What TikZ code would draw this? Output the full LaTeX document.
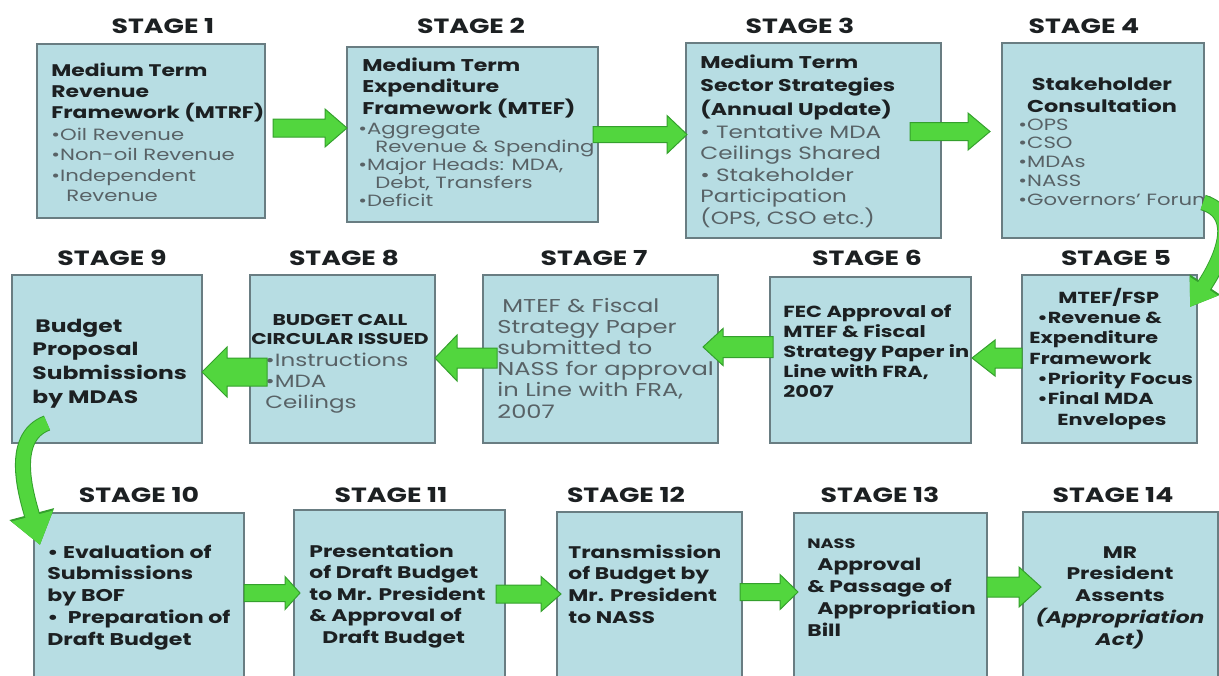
\documentclass[tikz,border=0pt]{standalone}
\usepackage{fontspec}
\setmainfont{Poppins}[FakeStretch=1.3]
\usetikzlibrary{calc,arrows.meta}
\definecolor{boxfill}{RGB}{183,221,227}
\definecolor{boxline}{RGB}{105,125,130}
\definecolor{agreen}{RGB}{82,214,62}
\definecolor{agreendk}{RGB}{52,160,45}
\definecolor{txtdk}{RGB}{28,32,34}
\definecolor{txtgr}{RGB}{88,98,102}
\newcommand{\fz}[2]{\fontsize{#1}{#2}\selectfont}
% horizontal block arrow: start coord, end coord, shaft half width, head half width, head length (px)
\newcommand{\hblock}[5]{%
  \draw[barrow] let \p1=(#1), \p2=(#2), \n1={ifthenelse(\x2>\x1,1,-1)} in
    (\x1,{\y1+#3*0.5pt}) -- ({\x2-(\n1)*#5*0.5pt},{\y1+#3*0.5pt})
    -- ({\x2-(\n1)*#5*0.5pt},{\y1+#4*0.5pt}) -- (\x2,\y1)
    -- ({\x2-(\n1)*#5*0.5pt},{\y1-#4*0.5pt}) -- ({\x2-(\n1)*#5*0.5pt},{\y1-#3*0.5pt})
    -- (\x1,{\y1-#3*0.5pt}) -- cycle;}
\begin{document}
\begin{tikzpicture}[x=0.5pt,y=-0.5pt,
  box/.style={draw=boxline,fill=boxfill,line width=1pt,inner sep=0pt,outer sep=0pt,anchor=north west},
  stg/.style={font=\fz{10.3}{13}\bfseries,text=txtdk,anchor=base,inner sep=0pt},
  tb/.style={text=txtdk,align=left,anchor=base west,inner sep=0pt},
  tg/.style={text=txtgr,align=left,anchor=base west,inner sep=0pt},
  barrow/.style={fill=agreen,draw=agreendk,line width=0.5pt,line join=miter},
  carrow/.style={draw=agreen,line width=7pt},
  carrowdk/.style={draw=agreendk,line width=8pt}]
\fill[white] (0,0) rectangle (1219,675);
\useasboundingbox (0,0) rectangle (1219,675);

% ---------- boxes ----------
\node[box,minimum width=114pt,minimum height=87pt] (s1) at (37,44) {};
\node[box,minimum width=125.5pt,minimum height=87.5pt] (s2) at (347,47) {};
\node[box,minimum width=127.5pt,minimum height=97.5pt] (s3) at (686,43) {};
\node[box,minimum width=101pt,minimum height=97.5pt] (s4) at (1002,43) {};
\node[box,minimum width=87.5pt,minimum height=84pt] (s5) at (1022,275) {};
\node[box,minimum width=100.5pt,minimum height=83pt] (s6) at (770,277) {};
\node[box,minimum width=117.5pt,minimum height=84pt] (s7) at (483,275) {};
\node[box,minimum width=92.5pt,minimum height=84pt] (s8) at (250,275) {};
\node[box,minimum width=95pt,minimum height=84pt] (s9) at (12,275) {};
\node[box,minimum width=105pt,minimum height=88.5pt] (s10) at (34,513) {};
\node[box,minimum width=105.5pt,minimum height=90pt] (s11) at (294,510) {};
\node[box,minimum width=92.5pt,minimum height=89pt] (s12) at (557,512) {};
\node[box,minimum width=96.5pt,minimum height=88.5pt] (s13) at (794,513) {};
\node[box,minimum width=97.5pt,minimum height=89pt] (s14) at (1023,512) {};

% ---------- stage labels ----------
\node[stg] (l1) at (163,33) {STAGE 1};
\node[stg] (l2) at (471,33) {STAGE 2};
\node[stg] (l3) at (800,33) {STAGE 3};
\node[stg] (l4) at (1084,33) {STAGE 4};
\node[stg] (l9) at (112,265) {STAGE 9};
\node[stg] (l8) at (344,265) {STAGE 8};
\node[stg] (l7) at (594,265) {STAGE 7};
\node[stg] (l6) at (867,265) {STAGE 6};
\node[stg] (l5) at (1116,265) {STAGE 5};
\node[stg] (l10) at (139,502) {STAGE 10};
\node[stg] (l11) at (391,502) {STAGE 11};
\node[stg] (l12) at (626,502) {STAGE 12};
\node[stg] (l13) at (880,502) {STAGE 13};
\node[stg] (l14) at (1113,502) {STAGE 14};

% ---------- texts (anchor = baseline of the last line) ----------
\node[tb,font=\fz{8.4}{10.5}\bfseries] (t1a) at (51,118) {Medium Term\\Revenue\\Framework (MTRF)};
\node[tg,font=\fz{8.15}{10.25}] (t1b) at (51,201.5) {•Oil Revenue\\•Non-oil Revenue\\•Independent\\\hspace*{7.5pt}Revenue};

\node[tb,font=\fz{8.5}{10.75}\bfseries] (t2a) at (362,114) {Medium Term\\Expenditure\\Framework (MTEF)};
\node[tg,font=\fz{8.15}{9}] (t2b) at (358,206) {•Aggregate\\\hspace*{8.5pt}Revenue \& Spending\\•Major Heads: MDA,\\\hspace*{8.5pt}Debt, Transfers\\•Deficit};

\node[tb,font=\fz{8.5}{11.75}\bfseries] (t3a) at (700,115) {Medium Term\\Sector Strategies\\(Annual Update)};
\node[tg,font=\fz{8.9}{10.75}] (t3b) at (700,224) {• Tentative MDA\\Ceilings Shared\\• Stakeholder\\Participation\\(OPS, CSO etc.)};

\node[tb,align=center,anchor=base,font=\fz{8.6}{11}\bfseries] (t4a) at (1102,112) {Stakeholder\\Consultation};
\node[tg,font=\fz{8.15}{9.35}] (t4b) at (1018,205) {•OPS\\•CSO\\•MDAs\\•NASS\\•Governors’ Forum};

\node[tb,font=\fz{8}{10.15}\bfseries] (t5) at (1029,425) {\hspace*{14.5pt}MTEF/FSP\\\hspace*{4pt}•Revenue \&\\Expenditure\\Framework\\\hspace*{4pt}•Priority Focus\\\hspace*{4pt}•Final MDA\\\hspace*{14pt}Envelopes};

\node[tb,font=\fz{8.05}{10}\bfseries] (t6) at (783,397) {FEC Approval of\\MTEF \& Fiscal\\Strategy Paper in\\Line with FRA,\\2007};

\node[tg,font=\fz{9.3}{10.6}] (t7) at (497,418) {\hspace*{2.5pt}MTEF \& Fiscal\\Strategy Paper\\submitted to\\NASS for approval\\in Line with FRA,\\2007};

\node[tb,align=center,anchor=base,font=\fz{7.8}{9.5}\bfseries] (t8a) at (340,344) {BUDGET CALL\\CIRCULAR ISSUED};
\node[tg,font=\fz{8.85}{10.5}] (t8b) at (265,408) {•Instructions\\•MDA\\Ceilings};

\node[tb,font=\fz{9}{11.8}\bfseries] (t9) at (32,403) {\hspace*{1.5pt}Budget\\Proposal\\Submissions\\by MDAS};

\node[tb,font=\fz{8.5}{10.85}\bfseries] (t10) at (47,645) {• Evaluation of\\Submissions\\by BOF\\•\ \ Preparation of\\Draft Budget};
\node[tb,font=\fz{8.4}{10.75}\bfseries] (t11) at (309,643) {Presentation\\of Draft Budget\\to Mr. President\\\& Approval of\\\hspace*{6.5pt}Draft Budget};
\node[tb,font=\fz{8.4}{10.8}\bfseries] (t12) at (568,623) {Transmission\\of Budget by\\Mr. President\\to NASS};
\node[tb,font=\fz{6.8}{8}\bfseries] (t13a) at (807,548) {NASS};
\node[tb,font=\fz{8.4}{11}\bfseries] (t13b) at (807,636) {\hspace*{5pt}Approval\\\& Passage of\\\hspace*{5pt}Appropriation\\Bill};
\node[tb,align=center,anchor=base,font=\fz{8.4}{10.85}\bfseries] (t14) at (1120,645) {MR\\President\\Assents\\\textit{(Appropriation}\\\textit{Act)}};

% ---------- straight block arrows ----------
\coordinate (a1s) at ($(s1.east)+(8,-3)$);   \coordinate (a1e) at (s2.west);
\coordinate (a2s) at ($(s2.east)+(-5,0)$);   \coordinate (a2e) at ($(s3.west)+(1,0)$);
\coordinate (a3s) at ($(s3.east)+(-31,-9)$); \coordinate (a3e) at ($(s4.west)+(-12,0)$);
\coordinate (a4s) at ($(s5.west)+(0,-1)$);   \coordinate (a4e) at ($(s6.east)+(1,0)$);
\coordinate (a5s) at ($(s6.west)+(3,-13)$);  \coordinate (a5e) at ($(s7.east)+(-15,0)$);
\coordinate (a6s) at ($(s7.west)+(14,-1)$);  \coordinate (a6e) at (s8.east);
\coordinate (a7s) at ($(s8.west)+(17,13)$);  \coordinate (a7e) at (s9.east);
\coordinate (a8s) at ($(s10.north east)+(0,80)$);  \coordinate (a8e) at ($(s11.north west)+(6,0)$);
\coordinate (a9s) at ($(s11.north east)+(-9,84)$); \coordinate (a9e) at ($(s12.north west)+(4,0)$);
\coordinate (a10s) at ($(s12.north east)+(-2,80)$); \coordinate (a10e) at ($(s13.north west)+(4,0)$);
\coordinate (a11s) at ($(s13.north east)+(0,74)$);  \coordinate (a11e) at ($(s14.north west)+(18,0)$);
\hblock{a1s}{a1e}{9}{19}{22}
\hblock{a2s}{a2e}{8}{19}{20}
\hblock{a3s}{a3e}{9}{18.5}{22}
\hblock{a4s}{a4e}{10}{18}{23}
\hblock{a5s}{a5e}{10.5}{18.5}{20}
\hblock{a6s}{a6e}{10}{23}{22}
\hblock{a7s}{a7e}{14}{25}{25}
\hblock{a8s}{a8e}{8.5}{16.5}{15}
\hblock{a9s}{a9e}{9}{17.5}{20}
\hblock{a10s}{a10e}{8.5}{17.5}{18}
\hblock{a11s}{a11e}{10}{20}{22}

% ---------- curved arrows ----------
\coordinate (c1s) at ($(s4.east)+(-1,62)$);
\coordinate (c1e) at ($(s5.north east)+(-7,32)$);
\draw[carrowdk,-{Triangle[length=13.5pt,width=17.5pt]}] (c1s) .. controls +(40,12) and +(30,-45) .. (c1e);
\draw[carrow,-{Triangle[length=12.5pt,width=16pt]}] (c1s) .. controls +(40,12) and +(30,-45) .. (c1e);
\coordinate (c2s) at ($(s9.south west)+(35,-20)$);
\coordinate (c2e) at ($(s10.north west)+(6,32)$);
\draw[carrowdk,-{Triangle[length=16pt,width=22pt]}] (c2s) .. controls +(-40,15) and +(-12,-45) .. (c2e);
\draw[carrow,-{Triangle[length=15pt,width=20.5pt]}] (c2s) .. controls +(-40,15) and +(-12,-45) .. (c2e);
\end{tikzpicture}
\end{document}
